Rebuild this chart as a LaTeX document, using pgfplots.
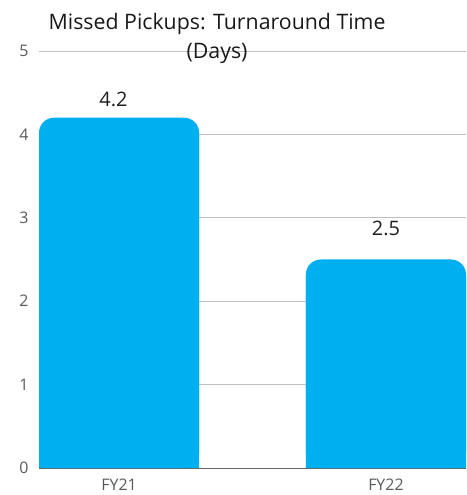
\documentclass[border=0pt]{standalone}
\usepackage{pgfplots}
\pgfplotsset{compat=1.18}
\usepackage{fontspec}
\setmainfont{Open Sans}
\definecolor{barblue}{HTML}{00AFEF}
\definecolor{gridgray}{HTML}{BFBFBF}
\definecolor{ticktext}{HTML}{595959}
\begin{document}
\begin{tikzpicture}
\begin{axis}[
  scale only axis, width=427bp, height=417bp,
  xmin=-0.3, xmax=1.3, ymin=0, ymax=5,
  clip=false,
  xtick={0,1}, xticklabels={FY21,FY22},
  ytick={0,1,2,3,4,5},
  ymajorgrids, grid style={draw=gridgray, line width=0.8pt},
  axis x line*=bottom, axis y line*=left,
  y axis line style={draw=none},
  x axis line style={-, draw=gray!80!black, line width=0.8pt},
  major tick length=0pt,
  /pgf/number format/assume math mode=true,
  tick label style={font=\fontsize{16}{18}\selectfont, text=ticktext},
  yticklabel style={xshift=-7bp},
  xticklabel style={yshift=-7bp},
]
\addplot[ybar, bar width=0.6, bar shift=0pt, fill=barblue, draw=none, rounded corners=15bp]
  coordinates {(0,4.2) (1,2.5)};
\addplot[ybar, bar width=0.6, bar shift=0pt, fill=barblue, draw=none]
  coordinates {(0,4.0) (1,2.3)};
\node[anchor=base, font=\fontsize{20}{22}\selectfont, text=black!88] at (axis cs:-0.021,4.33) {4.2};
\node[anchor=base, font=\fontsize{20}{22}\selectfont, text=black!88] at (axis cs:1.0,2.79) {2.5};
\node[anchor=base, font=\fontsize{21.4}{24}\selectfont, text=black!90] at (rel axis cs:0.417,1.0504) {Missed Pickups: Turnaround Time};
\node[anchor=base, font=\fontsize{21.4}{24}\selectfont, text=black!90] at (rel axis cs:0.417,0.9832) {(Days)};
\coordinate (bl) at (rel axis cs:0,0);
\coordinate (tr) at (rel axis cs:1,1);
\end{axis}
\pgfresetboundingbox
\useasboundingbox ([xshift=-39bp,yshift=-27bp]bl) rectangle ([yshift=51bp]tr);
\end{tikzpicture}
\end{document}
